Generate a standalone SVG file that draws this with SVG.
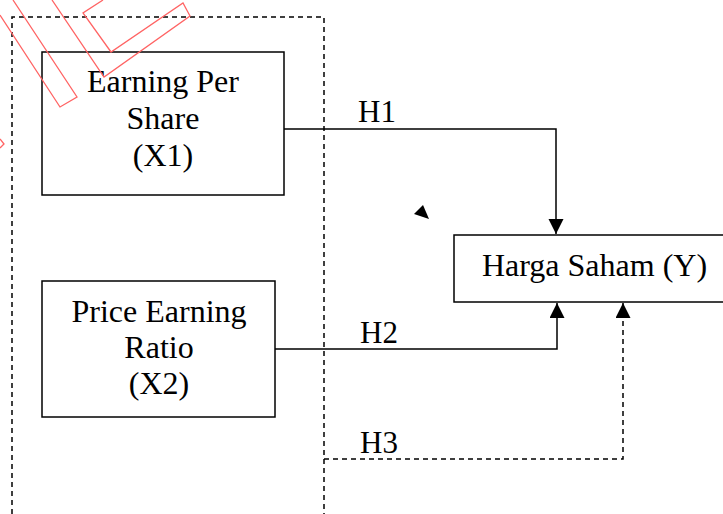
<svg xmlns="http://www.w3.org/2000/svg" width="723" height="514" viewBox="0 0 723 514">
<style>
.box{fill:#fff;stroke:#000;stroke-width:1.5}
.t{font-family:"Liberation Serif","Times New Roman",serif;font-size:32px;fill:#000}
.h{font-family:"Liberation Serif","Times New Roman",serif;font-size:31px;fill:#000}
.solid{fill:none;stroke:#000;stroke-width:1.5}
.dash{fill:none;stroke:#000;stroke-width:1.5;stroke-dasharray:5 4}
.wm{fill:none;stroke:#ff6464;stroke-width:1.3}
</style>
<defs>
<marker id="arr" markerWidth="16" markerHeight="16" refX="15" refY="7.5" orient="auto" markerUnits="userSpaceOnUse">
<path d="M0,0 L15,7.5 L0,15 Z" fill="#000"/>
</marker>
</defs>
<rect width="723" height="514" fill="#fff"/>
<g id="group-box">
<path class="dash" d="M12,514 L12,17 L324,17 L324,514"/>
</g>
<g id="connectors">
<path class="solid" d="M284,129 L556,129 L556,234" marker-end="url(#arr)"/>
<path class="solid" d="M275,349 L557,349 L557,303" marker-end="url(#arr)"/>
<path class="dash" d="M324,459 L623,459 L623,303" marker-end="url(#arr)"/>
<polygon points="423,205 414,214 429,219" fill="#000"/>
</g>
<g id="node-eps">
<rect class="box" x="42" y="52" width="242" height="143"/>
<text class="t" x="163" y="92" text-anchor="middle">Earning Per</text>
<text class="t" x="163" y="129" text-anchor="middle">Share</text>
<text class="t" x="163" y="166" text-anchor="middle">(X1)</text>
</g>
<g id="node-per">
<rect class="box" x="42" y="281" width="233" height="136"/>
<text class="t" x="159" y="322" text-anchor="middle">Price Earning</text>
<text class="t" x="159" y="358" text-anchor="middle">Ratio</text>
<text class="t" x="159" y="394" text-anchor="middle">(X2)</text>
</g>
<g id="node-harga">
<rect class="box" x="454" y="235" width="270" height="67"/>
<text class="t" x="594.5" y="276" text-anchor="middle">Harga Saham (Y)</text>
</g>
<g id="labels">
<text class="h" x="358" y="122">H1</text>
<text class="h" x="360" y="343">H2</text>
<text class="h" x="360" y="453">H3</text>
</g>
<g id="watermark">
<polyline class="wm" points="0,15 60,107 77,97 13,0"/>
<polyline class="wm" points="52,0 104,77 190,16 183,3 111,52 83,13 103,0"/>
<polyline class="wm" points="0,139 4,144 0,148"/>
</g>
</svg>
